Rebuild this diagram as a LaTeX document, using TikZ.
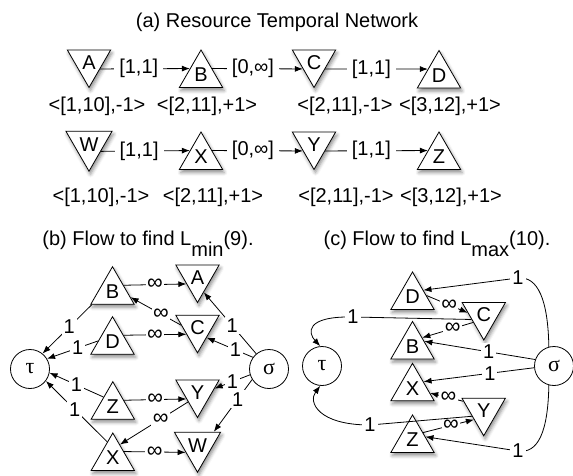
\documentclass[tikz,border=0pt]{standalone}
\usepackage{fontspec}
\setmainfont{Liberation Sans}
\newfontfamily\grk{Liberation Serif}
\usetikzlibrary{shapes.geometric,arrows.meta,shadows.blur}
\tikzset{
  every node/.style={font=\fontsize{20}{23}\selectfont},
  tri/.style={regular polygon, regular polygon sides=3, minimum size=50pt, inner sep=0pt,
    draw, fill=white, line width=0.8pt,
    blur shadow={shadow xshift=1.5pt, shadow yshift=-3pt, shadow blur radius=3.5pt, shadow opacity=45}},
  tup/.style={tri},
  tdn/.style={tri, shape border rotate=180},
  circ/.style={circle, draw, fill=white, minimum size=39pt, inner sep=0pt, line width=0.8pt,
    font=\grk\fontsize{22}{24}\selectfont},
  lbl/.style={fill=white, inner sep=2pt},
  albl/.style={fill=white, inner xsep=5pt, inner ysep=2pt},
  inf/.style={fill=white, inner sep=1.5pt, font=\fontsize{22}{24}\selectfont},
  arr/.style={-{Latex[length=8pt,width=6pt]}, line width=0.8pt},
}
\begin{document}
\begin{tikzpicture}[x=1pt,y=-1pt]
\useasboundingbox (0,0) rectangle (573,476);
% ---------- (a) ----------
\node[anchor=base] (ta) at (277,28) {(a) Resource Temporal Network};
\node[tdn] (A) at (89,62.5) {A};
\node[tup] (B) at (201,75) {B};
\node[tdn] (C) at (314,62.5) {C};
\node[tup] (D) at (439,75.5) {D};
\node[tdn] (W) at (89,144.5) {W};
\node[tup] (X) at (201,157) {X};
\node[tdn] (Y) at (314,144.5) {Y};
\node[tup] (Z) at (439,157) {Z};
\draw[arr] (A.330) -- node[albl,pos=0.43] (eAB) {[1,1]} (B.150);
\draw[arr] (B.30) -- node[albl,pos=0.45] (eBC) {[0,∞]} (C.210);
\draw[arr] (C.330) -- node[albl,pos=0.45] (eCD) {[1,1]} (D.150);
\draw[arr] (W.330) -- node[albl,pos=0.43] (eWX) {[1,1]} (X.150);
\draw[arr] (X.30) -- node[albl,pos=0.45] (eXY) {[0,∞]} (Y.210);
\draw[arr] (Y.330) -- node[albl,pos=0.45] (eYZ) {[1,1]} (Z.150);
\node (lA) at (97,106) {<[1,10],-1>};
\node (lB) at (207,106) {<[2,11],+1>};
\node (lC) at (345,106) {<[2,11],-1>};
\node (lD) at (450,106) {<[3,12],+1>};
\node (lW) at (101,197) {<[1,10],-1>};
\node (lX) at (213,197) {<[2,11],+1>};
\node (lY) at (346,197) {<[2,11],-1>};
\node (lZ) at (451,197) {<[3,12],+1>};
% ---------- (b) ----------
\node[anchor=base] (tb) at (148,245) {(b) Flow to find L\raisebox{-0.55em}{min}(9).};
\node[tup] (bB) at (112.5,291.7) {B};
\node[tdn] (bA) at (197.5,277.5) {A};
\node[tup] (bD) at (112.5,341.7) {D};
\node[tdn] (bC) at (197.5,327.8) {C};
\node[tup] (bZ) at (112.8,406.7) {Z};
\node[tdn] (bY) at (197.5,392.5) {Y};
\node[tup] (bX) at (112.8,458) {X};
\node[tdn] (bW) at (197.5,445.5) {W};
\node[circ] (btau) at (30,369) {τ};
\node[circ] (bsig) at (269,369) {σ};
\draw[arr] (bB.30) -- node[inf] (e1) {∞} (bA.210);
\draw[arr] (bD.30) -- node[inf] (e2) {∞} (bC.210);
\draw[arr] (bZ.30) -- node[inf] (e3) {∞} (bY.210);
\draw[arr] (bX.30) -- node[inf] (e4) {∞} (bW.210);
\draw[arr] (bC.171) -- node[inf,pos=0.4] (e5) {∞} (bB.343);
\draw[arr] (bY.225) -- node[inf,pos=0.4] (e6) {∞} (bX.62);
\draw[arr] (bsig.130) -- node[lbl,pos=0.46] (e7) {1} (bA.293);
\draw[arr] (bsig.144) -- node[lbl,pos=0.38] (e8) {1} (bC.313);
\draw[arr] (bsig.197) -- node[lbl,pos=0.5] (e9) {1} (bY.13);
\draw[arr] (bsig.212) -- node[lbl,pos=0.375] (e10) {1} (bW.40);
\draw[arr] (bB.212) -- node[lbl,pos=0.46] (e11) {1} (btau.51);
\draw[arr] (bD.177) -- node[lbl,pos=0.4] (e12) {1} (btau.31);
\draw[arr] (bZ.134) -- node[lbl,pos=0.5] (e13) {1} (btau.349);
\draw[arr] (bX.109) -- node[lbl,pos=0.53] (e14) {1} (btau.323);
% ---------- (c) ----------
\node[anchor=base] (tc) at (437,245) {(c) Flow to find L\raisebox{-0.55em}{max}(10).};
\node[tup] (cD) at (412.5,297) {D};
\node[tdn] (cC) at (483.8,315) {C};
\node[tup] (cB) at (412.5,346.5) {B};
\node[tup] (cX) at (412.5,388.3) {X};
\node[tdn] (cY) at (483.7,410.8) {Y};
\node[tup] (cZ) at (412.5,440) {Z};
\node[circ] (ctau) at (322,366) {τ};
\node[circ] (csig) at (554,366) {σ};
\coordinate (kD) at (518,278);
\coordinate (kZ) at (518,451);
\coordinate (kC) at (353,317);
\coordinate (kY) at (370,425);
\draw[arr] (cD.6) -- node[inf,pos=0.55] (f1) {∞} (cC.172);
\draw[arr] (cC.215) -- node[inf,pos=0.4] (f2) {∞} (cB.42);
\draw[arr] (cY.155) -- node[inf,pos=0.45] (f3) {∞} (cX.345);
\draw[arr] (cZ.35) -- node[inf,pos=0.55] (f4) {∞} (cY.222);
\draw[arr] (csig.161) -- node[lbl,pos=0.42] (f5) {1} (cB.24);
\draw[arr] (csig.185) -- node[lbl,pos=0.4] (f6) {1} (cX.31);
\draw[arr] (csig.105) .. controls (548,300) and (538,276) .. (kD) -- (cD.32);
\draw[arr] (csig.255) .. controls (548,432) and (538,454) .. (kZ) -- (cZ.14);
\draw[arr] (cC.200) -- (kC) .. controls (305,316) and (308,333) .. (ctau.95);
\draw[arr] (cY.205) -- (kY) .. controls (318,425) and (308,402) .. (ctau.265);
\node[lbl] (f7) at (kD) {1};
\node[lbl] (f8) at (kZ) {1};
\node[lbl] (f9) at (kC) {1};
\node[lbl] (f10) at (kY) {1};
\end{tikzpicture}
\end{document}
